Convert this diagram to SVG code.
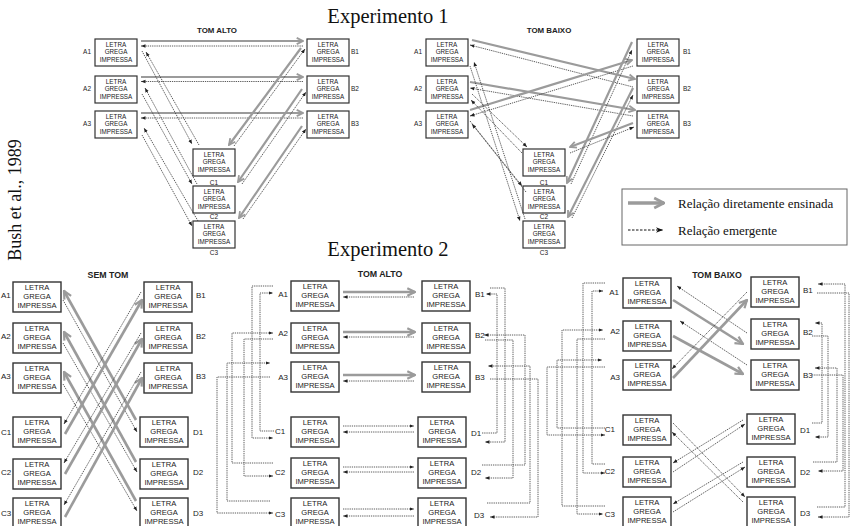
<svg xmlns="http://www.w3.org/2000/svg" width="852" height="526" viewBox="0 0 852 526">
<style>
rect.b{fill:#fff;stroke:#333;stroke-width:1.2}
rect.b2{fill:#fff;stroke:#333;stroke-width:1.4}
text{font-family:"Liberation Sans",Arial,sans-serif;fill:#222}
.t1{font-size:6.3px;text-anchor:middle}
.t2{font-size:7.6px;text-anchor:middle}
.l1{font-size:6.5px}
.l2{font-size:8px}
.ttl1{font-size:7.9px;font-weight:bold;text-anchor:middle}
.ttl2{font-size:8.8px;font-weight:bold;text-anchor:middle}
.serif{font-family:"Liberation Serif","Times New Roman",serif;fill:#111}
.g1{stroke:#9b9b9b;stroke-width:2.2;fill:none;marker-end:url(#ga)}
.g2{stroke:#9b9b9b;stroke-width:2.6;fill:none;marker-end:url(#gb)}
.d{stroke:#333;stroke-width:0.8;stroke-dasharray:1.3 0.9;fill:none;marker-end:url(#da)}
</style>
<defs>
<marker id="ga" markerUnits="userSpaceOnUse" markerWidth="9" markerHeight="9" viewBox="0 0 10 10" refX="9" refY="5" orient="auto"><path d="M2,1.5 L9,5 L2,8.5" fill="none" stroke="#9b9b9b" stroke-width="2"/></marker>
<marker id="gb" markerUnits="userSpaceOnUse" markerWidth="11" markerHeight="11" viewBox="0 0 10 10" refX="9" refY="5" orient="auto"><path d="M2,1.5 L9,5 L2,8.5" fill="none" stroke="#9b9b9b" stroke-width="2"/></marker>
<marker id="gl" markerUnits="userSpaceOnUse" markerWidth="14" markerHeight="14" viewBox="0 0 10 10" refX="9" refY="5" orient="auto"><path d="M2,1.5 L9,5 L2,8.5" fill="none" stroke="#9b9b9b" stroke-width="2"/></marker>
<marker id="da" markerUnits="userSpaceOnUse" markerWidth="4.5" markerHeight="4.5" viewBox="0 0 10 10" refX="10" refY="5" orient="auto"><path d="M0,1 L10,5 L0,9 Z" fill="#222"/></marker>
<marker id="dl" markerUnits="userSpaceOnUse" markerWidth="7" markerHeight="7" viewBox="0 0 10 10" refX="10" refY="5" orient="auto"><path d="M0,1 L10,5 L0,9 L3,5 Z" fill="#111"/></marker>
</defs>
<rect width="852" height="526" fill="#fff"/>

<text class="serif" x="388" y="23" font-size="20.5" text-anchor="middle">Experimento 1</text>
<text class="serif" x="388" y="256" font-size="20.5" text-anchor="middle">Experimento 2</text>
<text class="serif" x="21" y="200" font-size="18" text-anchor="middle" transform="rotate(-90 21 200)">Bush et al., 1989</text>

<text class="ttl1" x="217" y="33">TOM ALTO</text>
<text class="ttl1" x="549" y="33">TOM BAIXO</text>
<text class="ttl2" x="108" y="278">SEM TOM</text>
<text class="ttl2" x="380" y="277">TOM ALTO</text>
<text class="ttl2" x="717" y="278">TOM BAIXO</text>

<g id="legend">
<rect x="622" y="189" width="225" height="56" fill="#fff" stroke="#666" stroke-width="1"/>
<line x1="628" y1="203" x2="664" y2="203" stroke="#9b9b9b" stroke-width="3.5" marker-end="url(#gl)"/>
<text class="serif" x="678" y="207.5" font-size="13">Relação diretamente ensinada</text>
<line x1="628" y1="230" x2="663" y2="230" stroke="#111" stroke-width="1" stroke-dasharray="2.5 1.5" marker-end="url(#dl)"/>
<text class="serif" x="678" y="234.5" font-size="13">Relação emergente</text>
</g>

<!-- Experimento 1 TOM ALTO -->
<g id="e1h-A1"><rect class="b" x="95" y="39" width="42" height="27"/><text class="t1" x="116" y="46.5">LETRA</text><text class="t1" x="116" y="54.2">GREGA</text><text class="t1" x="116" y="62">IMPRESSA</text><text class="l1" x="91" y="54" text-anchor="end">A1</text></g>
<g id="e1h-A2"><rect class="b" x="95" y="76" width="42" height="27"/><text class="t1" x="116" y="83.5">LETRA</text><text class="t1" x="116" y="91.2">GREGA</text><text class="t1" x="116" y="99">IMPRESSA</text><text class="l1" x="91" y="91" text-anchor="end">A2</text></g>
<g id="e1h-A3"><rect class="b" x="95" y="111" width="42" height="27"/><text class="t1" x="116" y="118.5">LETRA</text><text class="t1" x="116" y="126.2">GREGA</text><text class="t1" x="116" y="134">IMPRESSA</text><text class="l1" x="91" y="126" text-anchor="end">A3</text></g>
<g id="e1h-B1"><rect class="b" x="307" y="39" width="42" height="27"/><text class="t1" x="328" y="46.5">LETRA</text><text class="t1" x="328" y="54.2">GREGA</text><text class="t1" x="328" y="62">IMPRESSA</text><text class="l1" x="351" y="54">B1</text></g>
<g id="e1h-B2"><rect class="b" x="307" y="76" width="42" height="27"/><text class="t1" x="328" y="83.5">LETRA</text><text class="t1" x="328" y="91.2">GREGA</text><text class="t1" x="328" y="99">IMPRESSA</text><text class="l1" x="351" y="91">B2</text></g>
<g id="e1h-B3"><rect class="b" x="307" y="111" width="42" height="27"/><text class="t1" x="328" y="118.5">LETRA</text><text class="t1" x="328" y="126.2">GREGA</text><text class="t1" x="328" y="134">IMPRESSA</text><text class="l1" x="351" y="126">B3</text></g>
<g id="e1h-C1"><rect class="b" x="193" y="149" width="42" height="27"/><text class="t1" x="214" y="156.5">LETRA</text><text class="t1" x="214" y="164.2">GREGA</text><text class="t1" x="214" y="172">IMPRESSA</text><text class="l1" x="214" y="184.5" text-anchor="middle">C1</text></g>
<g id="e1h-C2"><rect class="b" x="193" y="186" width="42" height="27"/><text class="t1" x="214" y="193.5">LETRA</text><text class="t1" x="214" y="201.2">GREGA</text><text class="t1" x="214" y="209">IMPRESSA</text><text class="l1" x="214" y="219" text-anchor="middle">C2</text></g>
<g id="e1h-C3"><rect class="b" x="193" y="221" width="42" height="27"/><text class="t1" x="214" y="228.5">LETRA</text><text class="t1" x="214" y="236.2">GREGA</text><text class="t1" x="214" y="244">IMPRESSA</text><text class="l1" x="214" y="254.5" text-anchor="middle">C3</text></g>

<!-- Experimento 1 TOM BAIXO -->
<g id="e1l-A1"><rect class="b" x="426" y="39" width="42" height="27"/><text class="t1" x="447" y="46.5">LETRA</text><text class="t1" x="447" y="54.2">GREGA</text><text class="t1" x="447" y="62">IMPRESSA</text><text class="l1" x="422" y="54" text-anchor="end">A1</text></g>
<g id="e1l-A2"><rect class="b" x="426" y="76" width="42" height="27"/><text class="t1" x="447" y="83.5">LETRA</text><text class="t1" x="447" y="91.2">GREGA</text><text class="t1" x="447" y="99">IMPRESSA</text><text class="l1" x="422" y="91" text-anchor="end">A2</text></g>
<g id="e1l-A3"><rect class="b" x="426" y="111" width="42" height="27"/><text class="t1" x="447" y="118.5">LETRA</text><text class="t1" x="447" y="126.2">GREGA</text><text class="t1" x="447" y="134">IMPRESSA</text><text class="l1" x="422" y="126" text-anchor="end">A3</text></g>
<g id="e1l-B1"><rect class="b" x="637" y="39" width="42" height="27"/><text class="t1" x="658" y="46.5">LETRA</text><text class="t1" x="658" y="54.2">GREGA</text><text class="t1" x="658" y="62">IMPRESSA</text><text class="l1" x="683" y="54">B1</text></g>
<g id="e1l-B2"><rect class="b" x="637" y="76" width="42" height="27"/><text class="t1" x="658" y="83.5">LETRA</text><text class="t1" x="658" y="91.2">GREGA</text><text class="t1" x="658" y="99">IMPRESSA</text><text class="l1" x="683" y="91">B2</text></g>
<g id="e1l-B3"><rect class="b" x="637" y="111" width="42" height="27"/><text class="t1" x="658" y="118.5">LETRA</text><text class="t1" x="658" y="126.2">GREGA</text><text class="t1" x="658" y="134">IMPRESSA</text><text class="l1" x="683" y="126">B3</text></g>
<g id="e1l-C1"><rect class="b" x="523" y="149" width="42" height="27"/><text class="t1" x="544" y="156.5">LETRA</text><text class="t1" x="544" y="164.2">GREGA</text><text class="t1" x="544" y="172">IMPRESSA</text><text class="l1" x="544" y="184.5" text-anchor="middle">C1</text></g>
<g id="e1l-C2"><rect class="b" x="523" y="186" width="42" height="27"/><text class="t1" x="544" y="193.5">LETRA</text><text class="t1" x="544" y="201.2">GREGA</text><text class="t1" x="544" y="209">IMPRESSA</text><text class="l1" x="544" y="219" text-anchor="middle">C2</text></g>
<g id="e1l-C3"><rect class="b" x="523" y="221" width="42" height="27"/><text class="t1" x="544" y="228.5">LETRA</text><text class="t1" x="544" y="236.2">GREGA</text><text class="t1" x="544" y="244">IMPRESSA</text><text class="l1" x="544" y="254.5" text-anchor="middle">C3</text></g>

<!-- Experimento 2 SEM TOM -->
<g id="e2s-A1"><rect class="b2" x="13" y="282" width="48" height="30"/><text class="t2" x="37" y="290">LETRA</text><text class="t2" x="37" y="299">GREGA</text><text class="t2" x="37" y="308">IMPRESSA</text><text class="l2" x="1" y="298">A1</text></g>
<g id="e2s-A2"><rect class="b2" x="13" y="323" width="48" height="30"/><text class="t2" x="37" y="331">LETRA</text><text class="t2" x="37" y="340">GREGA</text><text class="t2" x="37" y="349">IMPRESSA</text><text class="l2" x="1" y="339">A2</text></g>
<g id="e2s-A3"><rect class="b2" x="13" y="363" width="48" height="30"/><text class="t2" x="37" y="371">LETRA</text><text class="t2" x="37" y="380">GREGA</text><text class="t2" x="37" y="389">IMPRESSA</text><text class="l2" x="1" y="379">A3</text></g>
<g id="e2s-C1"><rect class="b2" x="13" y="417" width="48" height="30"/><text class="t2" x="37" y="425">LETRA</text><text class="t2" x="37" y="434">GREGA</text><text class="t2" x="37" y="443">IMPRESSA</text><text class="l2" x="1" y="435">C1</text></g>
<g id="e2s-C2"><rect class="b2" x="13" y="459" width="48" height="30"/><text class="t2" x="37" y="467">LETRA</text><text class="t2" x="37" y="476">GREGA</text><text class="t2" x="37" y="485">IMPRESSA</text><text class="l2" x="1" y="475">C2</text></g>
<g id="e2s-C3"><rect class="b2" x="13" y="498" width="48" height="30"/><text class="t2" x="37" y="506">LETRA</text><text class="t2" x="37" y="515">GREGA</text><text class="t2" x="37" y="524">IMPRESSA</text><text class="l2" x="1" y="516">C3</text></g>
<g id="e2s-B1"><rect class="b2" x="144" y="282" width="48" height="30"/><text class="t2" x="168" y="290">LETRA</text><text class="t2" x="168" y="299">GREGA</text><text class="t2" x="168" y="308">IMPRESSA</text><text class="l2" x="196" y="298">B1</text></g>
<g id="e2s-B2"><rect class="b2" x="144" y="323" width="48" height="30"/><text class="t2" x="168" y="331">LETRA</text><text class="t2" x="168" y="340">GREGA</text><text class="t2" x="168" y="349">IMPRESSA</text><text class="l2" x="196" y="339">B2</text></g>
<g id="e2s-B3"><rect class="b2" x="144" y="363" width="48" height="30"/><text class="t2" x="168" y="371">LETRA</text><text class="t2" x="168" y="380">GREGA</text><text class="t2" x="168" y="389">IMPRESSA</text><text class="l2" x="196" y="379">B3</text></g>
<g id="e2s-D1"><rect class="b2" x="140" y="417" width="48" height="30"/><text class="t2" x="164" y="425">LETRA</text><text class="t2" x="164" y="434">GREGA</text><text class="t2" x="164" y="443">IMPRESSA</text><text class="l2" x="193" y="435">D1</text></g>
<g id="e2s-D2"><rect class="b2" x="140" y="459" width="48" height="30"/><text class="t2" x="164" y="467">LETRA</text><text class="t2" x="164" y="476">GREGA</text><text class="t2" x="164" y="485">IMPRESSA</text><text class="l2" x="193" y="475">D2</text></g>
<g id="e2s-D3"><rect class="b2" x="140" y="498" width="48" height="30"/><text class="t2" x="164" y="506">LETRA</text><text class="t2" x="164" y="515">GREGA</text><text class="t2" x="164" y="524">IMPRESSA</text><text class="l2" x="193" y="516">D3</text></g>

<!-- Experimento 2 TOM ALTO -->
<g id="e2h-A1"><rect class="b2" x="291" y="281" width="48" height="30"/><text class="t2" x="315" y="289">LETRA</text><text class="t2" x="315" y="298">GREGA</text><text class="t2" x="315" y="307">IMPRESSA</text><text class="l2" x="288" y="297" text-anchor="end">A1</text></g>
<g id="e2h-A2"><rect class="b2" x="291" y="323" width="48" height="30"/><text class="t2" x="315" y="331">LETRA</text><text class="t2" x="315" y="340">GREGA</text><text class="t2" x="315" y="349">IMPRESSA</text><text class="l2" x="288" y="336" text-anchor="end">A2</text></g>
<g id="e2h-A3"><rect class="b2" x="291" y="362" width="48" height="30"/><text class="t2" x="315" y="370">LETRA</text><text class="t2" x="315" y="379">GREGA</text><text class="t2" x="315" y="388">IMPRESSA</text><text class="l2" x="288" y="380" text-anchor="end">A3</text></g>
<g id="e2h-C1"><rect class="b2" x="291" y="417" width="48" height="30"/><text class="t2" x="315" y="425">LETRA</text><text class="t2" x="315" y="434">GREGA</text><text class="t2" x="315" y="443">IMPRESSA</text><text class="l2" x="275" y="434">C1</text></g>
<g id="e2h-C2"><rect class="b2" x="291" y="458" width="48" height="30"/><text class="t2" x="315" y="466">LETRA</text><text class="t2" x="315" y="475">GREGA</text><text class="t2" x="315" y="484">IMPRESSA</text><text class="l2" x="275" y="475">C2</text></g>
<g id="e2h-C3"><rect class="b2" x="291" y="498" width="48" height="30"/><text class="t2" x="315" y="506">LETRA</text><text class="t2" x="315" y="515">GREGA</text><text class="t2" x="315" y="524">IMPRESSA</text><text class="l2" x="275" y="517">C3</text></g>
<g id="e2h-B1"><rect class="b2" x="422" y="281" width="48" height="30"/><text class="t2" x="446" y="289">LETRA</text><text class="t2" x="446" y="298">GREGA</text><text class="t2" x="446" y="307">IMPRESSA</text><text class="l2" x="475" y="297">B1</text></g>
<g id="e2h-B2"><rect class="b2" x="422" y="323" width="48" height="30"/><text class="t2" x="446" y="331">LETRA</text><text class="t2" x="446" y="340">GREGA</text><text class="t2" x="446" y="349">IMPRESSA</text><text class="l2" x="475" y="338">B2</text></g>
<g id="e2h-B3"><rect class="b2" x="422" y="362" width="48" height="30"/><text class="t2" x="446" y="370">LETRA</text><text class="t2" x="446" y="379">GREGA</text><text class="t2" x="446" y="388">IMPRESSA</text><text class="l2" x="475" y="380">B3</text></g>
<g id="e2h-D1"><rect class="b2" x="418" y="417" width="48" height="30"/><text class="t2" x="442" y="425">LETRA</text><text class="t2" x="442" y="434">GREGA</text><text class="t2" x="442" y="443">IMPRESSA</text><text class="l2" x="471" y="436">D1</text></g>
<g id="e2h-D2"><rect class="b2" x="418" y="458" width="48" height="30"/><text class="t2" x="442" y="466">LETRA</text><text class="t2" x="442" y="475">GREGA</text><text class="t2" x="442" y="484">IMPRESSA</text><text class="l2" x="471" y="475">D2</text></g>
<g id="e2h-D3"><rect class="b2" x="418" y="498" width="48" height="30"/><text class="t2" x="442" y="506">LETRA</text><text class="t2" x="442" y="515">GREGA</text><text class="t2" x="442" y="524">IMPRESSA</text><text class="l2" x="474" y="518">D3</text></g>

<!-- Experimento 2 TOM BAIXO -->
<g id="e2l-A1"><rect class="b2" x="623" y="278" width="48" height="30"/><text class="t2" x="647" y="286">LETRA</text><text class="t2" x="647" y="295">GREGA</text><text class="t2" x="647" y="304">IMPRESSA</text><text class="l2" x="619" y="295" text-anchor="end">A1</text></g>
<g id="e2l-A2"><rect class="b2" x="623" y="321" width="48" height="30"/><text class="t2" x="647" y="329">LETRA</text><text class="t2" x="647" y="338">GREGA</text><text class="t2" x="647" y="347">IMPRESSA</text><text class="l2" x="620" y="334" text-anchor="end">A2</text></g>
<g id="e2l-A3"><rect class="b2" x="623" y="360" width="48" height="30"/><text class="t2" x="647" y="368">LETRA</text><text class="t2" x="647" y="377">GREGA</text><text class="t2" x="647" y="386">IMPRESSA</text><text class="l2" x="620" y="380" text-anchor="end">A3</text></g>
<g id="e2l-C1"><rect class="b2" x="623" y="415" width="48" height="30"/><text class="t2" x="647" y="423">LETRA</text><text class="t2" x="647" y="432">GREGA</text><text class="t2" x="647" y="441">IMPRESSA</text><text class="l2" x="615" y="432" text-anchor="end">C1</text></g>
<g id="e2l-C2"><rect class="b2" x="623" y="457" width="48" height="30"/><text class="t2" x="647" y="465">LETRA</text><text class="t2" x="647" y="474">GREGA</text><text class="t2" x="647" y="483">IMPRESSA</text><text class="l2" x="615" y="474" text-anchor="end">C2</text></g>
<g id="e2l-C3"><rect class="b2" x="623" y="497" width="48" height="30"/><text class="t2" x="647" y="505">LETRA</text><text class="t2" x="647" y="514">GREGA</text><text class="t2" x="647" y="523">IMPRESSA</text><text class="l2" x="615" y="517" text-anchor="end">C3</text></g>
<g id="e2l-B1"><rect class="b2" x="751" y="277" width="48" height="30"/><text class="t2" x="775" y="285">LETRA</text><text class="t2" x="775" y="294">GREGA</text><text class="t2" x="775" y="303">IMPRESSA</text><text class="l2" x="803" y="293">B1</text></g>
<g id="e2l-B2"><rect class="b2" x="751" y="319" width="48" height="30"/><text class="t2" x="775" y="327">LETRA</text><text class="t2" x="775" y="336">GREGA</text><text class="t2" x="775" y="345">IMPRESSA</text><text class="l2" x="803" y="335">B2</text></g>
<g id="e2l-B3"><rect class="b2" x="751" y="360" width="48" height="30"/><text class="t2" x="775" y="368">LETRA</text><text class="t2" x="775" y="377">GREGA</text><text class="t2" x="775" y="386">IMPRESSA</text><text class="l2" x="803" y="378">B3</text></g>
<g id="e2l-D1"><rect class="b2" x="747" y="414" width="48" height="30"/><text class="t2" x="771" y="422">LETRA</text><text class="t2" x="771" y="431">GREGA</text><text class="t2" x="771" y="440">IMPRESSA</text><text class="l2" x="800" y="433">D1</text></g>
<g id="e2l-D2"><rect class="b2" x="747" y="457" width="48" height="30"/><text class="t2" x="771" y="465">LETRA</text><text class="t2" x="771" y="474">GREGA</text><text class="t2" x="771" y="483">IMPRESSA</text><text class="l2" x="800" y="475">D2</text></g>
<g id="e2l-D3"><rect class="b2" x="747" y="497" width="48" height="30"/><text class="t2" x="771" y="505">LETRA</text><text class="t2" x="771" y="514">GREGA</text><text class="t2" x="771" y="523">IMPRESSA</text><text class="l2" x="800" y="516">D3</text></g>

<g id="connectors">
<!-- E1 TOM ALTO -->
<line class="g1" x1="141" y1="41" x2="303" y2="41"/>
<line class="d" x1="303" y1="46" x2="141" y2="46"/>
<line class="g1" x1="141" y1="77" x2="303" y2="77"/>
<line class="d" x1="303" y1="81.5" x2="141" y2="81.5"/>
<line class="g1" x1="141" y1="113" x2="303" y2="113"/>
<line class="d" x1="303" y1="118" x2="141" y2="118"/>
<line class="g1" x1="301" y1="48" x2="229" y2="145"/>
<line class="d" x1="234" y1="146" x2="305" y2="49"/>
<line class="g1" x1="302" y1="89" x2="238" y2="182"/>
<line class="d" x1="242" y1="184" x2="306" y2="92"/>
<line class="g1" x1="302" y1="126" x2="239" y2="218"/>
<line class="d" x1="243" y1="219" x2="306" y2="129"/>
<line class="d" x1="142" y1="51" x2="192" y2="144"/>
<line class="d" x1="199" y1="145" x2="146" y2="52"/>
<line class="d" x1="142" y1="94" x2="192" y2="184"/>
<line class="d" x1="197" y1="184" x2="145" y2="88"/>
<line class="d" x1="142" y1="135" x2="192" y2="226"/>
<line class="d" x1="198" y1="221" x2="144" y2="128"/>
<!-- E1 TOM BAIXO -->
<line class="g1" x1="472" y1="40" x2="635" y2="79"/>
<line class="d" x1="633" y1="87" x2="470" y2="45"/>
<line class="g1" x1="470" y1="82" x2="635" y2="110"/>
<line class="d" x1="633" y1="116" x2="470" y2="88"/>
<line class="g1" x1="470" y1="110" x2="632" y2="60"/>
<line class="d" x1="633" y1="66" x2="470" y2="116"/>
<line class="g1" x1="632" y1="42" x2="567" y2="183"/>
<line class="d" x1="571" y1="184" x2="632" y2="50"/>
<line class="g1" x1="633" y1="88" x2="568" y2="217"/>
<line class="d" x1="572" y1="218" x2="633" y2="95"/>
<line class="g1" x1="633" y1="123" x2="570" y2="147"/>
<line class="d" x1="570" y1="153" x2="634" y2="127"/>
<line class="d" x1="470" y1="66" x2="520" y2="221"/>
<line class="d" x1="525" y1="219" x2="474" y2="62"/>
<line class="d" x1="472" y1="94" x2="527" y2="147"/>
<line class="d" x1="522" y1="153" x2="471" y2="100"/>
<line class="d" x1="470" y1="121" x2="522" y2="186"/>
<line class="d" x1="526" y1="192" x2="472" y2="124"/>
<!-- E2 SEM TOM -->
<line class="g2" x1="136" y1="420" x2="64" y2="291"/>
<line class="d" x1="63" y1="300" x2="137" y2="432"/>
<line class="g2" x1="136" y1="462" x2="64" y2="332"/>
<line class="d" x1="63" y1="343" x2="137" y2="472"/>
<line class="g2" x1="136" y1="501" x2="64" y2="372"/>
<line class="d" x1="63" y1="384" x2="137" y2="511"/>
<line class="g2" x1="65" y1="434" x2="142" y2="300"/>
<line class="d" x1="141" y1="292" x2="64" y2="424"/>
<line class="g2" x1="65" y1="474" x2="142" y2="339"/>
<line class="d" x1="141" y1="333" x2="64" y2="463"/>
<line class="g2" x1="65" y1="517" x2="142" y2="378"/>
<line class="d" x1="141" y1="372" x2="64" y2="505"/>
<!-- E2 TOM ALTO -->
<line class="g2" x1="343" y1="292" x2="415" y2="292"/>
<line class="d" x1="414" y1="297" x2="343" y2="297"/>
<line class="g2" x1="343" y1="332" x2="415" y2="332"/>
<line class="d" x1="414" y1="337" x2="343" y2="337"/>
<line class="g2" x1="343" y1="375" x2="415" y2="375"/>
<line class="d" x1="414" y1="381" x2="343" y2="381"/>
<line class="d" x1="343" y1="426" x2="414" y2="426"/>
<line class="d" x1="414" y1="432" x2="343" y2="432"/>
<line class="d" x1="343" y1="467" x2="414" y2="467"/>
<line class="d" x1="414" y1="472" x2="343" y2="472"/>
<line class="d" x1="343" y1="509" x2="414" y2="509"/>
<line class="d" x1="414" y1="516" x2="343" y2="516"/>
<polyline class="d" points="273,286 252,286 252,438 273,438"/>
<polyline class="d" points="274,431 260,431 260,293 273,293"/>
<polyline class="d" points="273,463 232,463 232,333 273,333"/>
<polyline class="d" points="273,339 244,339 244,476 273,476"/>
<polyline class="d" points="270,501 227,501 227,363 270,363"/>
<polyline class="d" points="270,377 217,377 217,513 273,513"/>
<polyline class="d" points="482,433 497,433 497,294 486,294"/>
<polyline class="d" points="490,288 505,288 505,442 485,442"/>
<polyline class="d" points="482,465 525,465 525,335 484,335"/>
<polyline class="d" points="485,340 513,340 513,478 485,478"/>
<polyline class="d" points="487,503 530,503 530,366 488,366"/>
<polyline class="d" points="490,379 538,379 538,517 490,517"/>
<!-- E2 TOM BAIXO -->
<line class="g2" x1="673" y1="300" x2="743" y2="344"/>
<line class="d" x1="747" y1="333" x2="677" y2="286"/>
<line class="g2" x1="673" y1="336" x2="743" y2="374"/>
<line class="d" x1="747" y1="365" x2="680" y2="321"/>
<line class="g2" x1="673" y1="378" x2="747" y2="300"/>
<line class="d" x1="747" y1="292" x2="672" y2="369"/>
<line class="d" x1="673" y1="423" x2="745" y2="497"/>
<line class="d" x1="743" y1="502" x2="672" y2="432"/>
<line class="d" x1="673" y1="472" x2="745" y2="424"/>
<line class="d" x1="743" y1="420" x2="673" y2="463"/>
<line class="d" x1="673" y1="512" x2="745" y2="467"/>
<line class="d" x1="743" y1="462" x2="673" y2="504"/>
<polyline class="d" points="605,428 557,428 557,360 602,360"/>
<polyline class="d" points="605,367 547,367 547,435 605,435"/>
<polyline class="d" points="605,464 592,464 592,291 603,291"/>
<polyline class="d" points="605,283 583,283 583,473 605,473"/>
<polyline class="d" points="605,506 562,506 562,330 603,330"/>
<polyline class="d" points="605,339 577,339 577,514 603,514"/>
<polyline class="d" points="817,507 845,507 845,284 818,284"/>
<polyline class="d" points="817,293 849,293 849,517 818,517"/>
<polyline class="d" points="812,423 822,423 822,323 815,323"/>
<polyline class="d" points="812,336 828,336 828,437 815,437"/>
<polyline class="d" points="813,462 837,462 837,368 815,368"/>
<polyline class="d" points="812,375 843,375 843,471 818,471"/>
</g>
</svg>
